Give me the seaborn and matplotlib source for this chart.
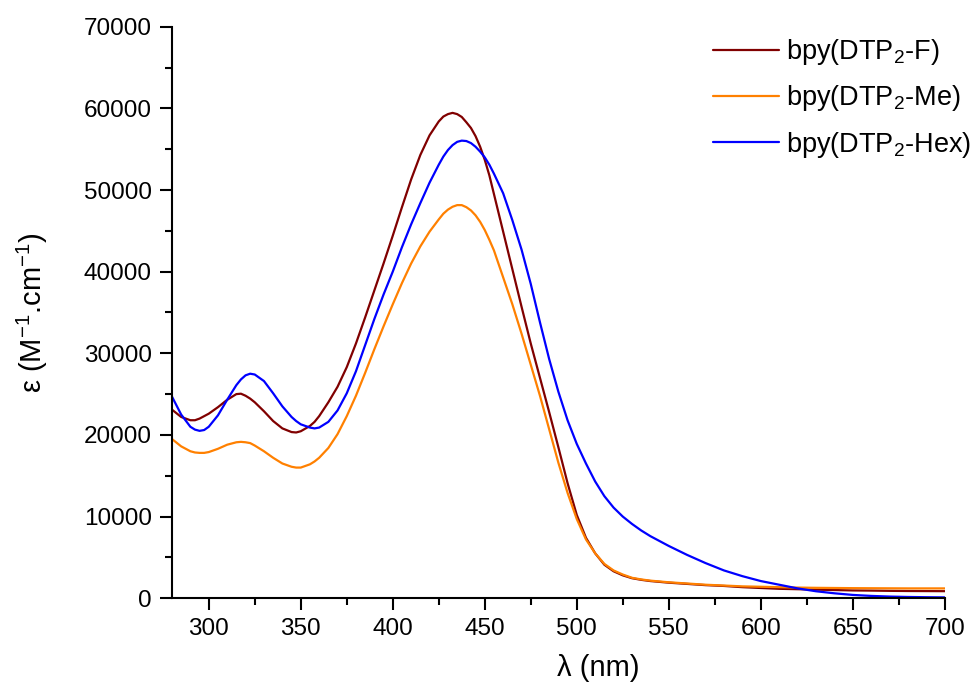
import numpy as np
import pandas as pd
import matplotlib
matplotlib.use('Agg')
import matplotlib.pyplot as plt
import seaborn as sns

# comprimento de onda (nm)
wl = [280, 285, 290, 292.5, 295, 297.5, 300, 305, 310, 315, 317.5, 320, 322.5, 325, 330,
      335, 340, 345, 347.5, 350, 355, 357.5, 360, 365, 370, 375, 380, 385, 390, 395,
      400, 405, 410, 415, 420, 425, 427.5, 430, 432.5, 435, 437.5, 440, 442.5, 445, 447.5,
      450, 452.5, 455, 460, 465, 470, 475, 480, 485, 490, 495, 500, 505, 510, 515,
      520, 525, 530, 535, 540, 550, 560, 570, 580, 590, 600, 610, 620, 630, 640,
      650, 660, 670, 680, 690, 700]

# epsilon (x1000 M-1 cm-1)
eps_F = [23.1, 22.2, 21.8, 21.8, 22.0, 22.3, 22.6, 23.4, 24.3, 25.0, 25.05, 24.8, 24.45, 24.0, 22.9,
         21.7, 20.8, 20.35, 20.3, 20.45, 21.1, 21.6, 22.3, 24.0, 25.9, 28.3, 31.2, 34.4, 37.7, 41.0,
         44.4, 47.9, 51.3, 54.3, 56.7, 58.4, 59.0, 59.3, 59.45, 59.3, 58.95, 58.3, 57.6, 56.6, 55.3,
         53.7, 51.8, 49.5, 44.9, 40.3, 35.7, 31.2, 27.0, 22.8, 18.5, 14.1, 10.2, 7.4, 5.5, 4.1,
         3.3, 2.8, 2.45, 2.25, 2.1, 1.9, 1.75, 1.6, 1.5, 1.35, 1.25, 1.15, 1.1, 1.05, 1.0,
         0.95, 0.93, 0.9, 0.88, 0.87, 0.86]

eps_Me = [19.5, 18.6, 18.0, 17.85, 17.8, 17.8, 17.9, 18.3, 18.8, 19.1, 19.15, 19.1, 19.0, 18.7, 18.0,
          17.2, 16.5, 16.1, 16.0, 16.0, 16.4, 16.75, 17.2, 18.4, 20.1, 22.3, 24.8, 27.6, 30.5, 33.3,
          36.0, 38.6, 41.0, 43.1, 44.9, 46.4, 47.1, 47.6, 47.95, 48.15, 48.15, 47.9, 47.5, 46.9, 46.1,
          45.1, 43.9, 42.6, 39.3, 36.0, 32.4, 28.6, 24.8, 20.7, 16.6, 12.9, 9.7, 7.2, 5.5, 4.2,
          3.4, 2.9, 2.5, 2.3, 2.15, 1.95, 1.8, 1.65, 1.55, 1.45, 1.4, 1.35, 1.3, 1.27, 1.25,
          1.23, 1.22, 1.21, 1.2, 1.2, 1.2]

eps_Hex = [24.7, 22.5, 21.0, 20.65, 20.5, 20.6, 21.0, 22.4, 24.3, 26.1, 26.8, 27.3, 27.5, 27.4, 26.6,
           25.1, 23.5, 22.2, 21.7, 21.3, 20.9, 20.8, 20.9, 21.6, 23.0, 25.1, 27.8, 31.0, 34.2, 37.2,
           40.0, 43.0, 45.8, 48.4, 50.9, 53.1, 54.1, 54.9, 55.5, 55.9, 56.05, 56.0, 55.75, 55.3, 54.7,
           54.0, 53.1, 52.0, 49.6, 46.3, 42.7, 38.5, 33.8, 29.3, 25.3, 21.8, 18.9, 16.5, 14.3, 12.5,
           11.1, 10.0, 9.1, 8.3, 7.6, 6.4, 5.3, 4.3, 3.4, 2.7, 2.1, 1.65, 1.2, 0.85, 0.6,
           0.4, 0.28, 0.2, 0.15, 0.12, 0.1]

series = ['bpy(DTP$_2$-F)', 'bpy(DTP$_2$-Me)', 'bpy(DTP$_2$-Hex)']
cores = ['#800000', '#FF8000', '#0000FF']

df = pd.concat([
    pd.DataFrame({'wl': wl, 'eps': np.array(eps_F) * 1000, 'amostra': series[0]}),
    pd.DataFrame({'wl': wl, 'eps': np.array(eps_Me) * 1000, 'amostra': series[1]}),
    pd.DataFrame({'wl': wl, 'eps': np.array(eps_Hex) * 1000, 'amostra': series[2]}),
])

sns.set_style('ticks')
plt.rcParams['font.family'] = ['Liberation Sans', 'DejaVu Sans']
plt.rcParams['mathtext.fontset'] = 'custom'
plt.rcParams['mathtext.rm'] = 'Liberation Sans'
plt.rcParams['mathtext.it'] = 'Liberation Sans:italic'
plt.rcParams['text.color'] = 'black'
plt.rcParams['axes.labelcolor'] = 'black'

fig = plt.figure(figsize=(9.77, 6.86), dpi=100)
ax = fig.add_axes([0.176, 0.128, 0.791, 0.833])

sns.lineplot(data=df, x='wl', y='eps', hue='amostra', palette=cores,
             linewidth=1.6, ax=ax, sort=False)

ax.set_xlim(280, 700)
ax.set_ylim(0, 70000)
ax.set_xticks(np.arange(300, 701, 50))
ax.set_xticks(np.arange(325, 700, 50), minor=True)
ax.set_yticks(np.arange(0, 70001, 10000))
ax.set_yticks(np.arange(5000, 70000, 10000), minor=True)
ax.tick_params(which='major', direction='out', length=8.5, width=1.5, pad=6, labelsize=17.5,
               color='black', labelcolor='black')
ax.tick_params(which='minor', direction='out', length=5, width=1.5, color='black')

sns.despine(ax=ax)
for s in ['left', 'bottom']:
    ax.spines[s].set_linewidth(1.5)
    ax.spines[s].set_color('black')

ax.set_xlabel('λ (nm)', fontsize=21, color='black')
ax.xaxis.set_label_coords(0.552, -0.097)
ax.set_ylabel('ε (M$^{\\mathregular{-1}}$.cm$^{\\mathregular{-1}}$)', fontsize=21, color='black')
ax.yaxis.set_label_coords(-0.158, 0.5)

leg = ax.legend(loc='upper left', bbox_to_anchor=(713 / 977, 1 - 37 / 686),
                bbox_transform=fig.transFigure, frameon=False, fontsize=19.5,
                handlelength=2.45, handletextpad=0.25, labelspacing=0.6,
                borderpad=0, borderaxespad=0)
leg.set_title(None)
for t in leg.get_texts():
    t.set_color('black')

plt.savefig('out.png', dpi=100)
plt.close()
